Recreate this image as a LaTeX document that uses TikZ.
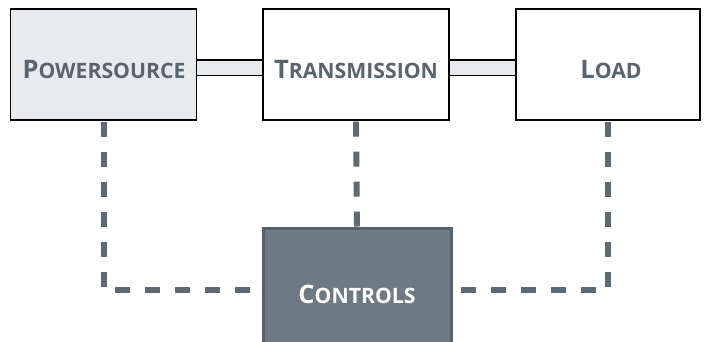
\documentclass[tikz,border=0pt]{standalone}
\usepackage{fontspec}
\setmainfont{Open Sans}
\definecolor{inkgrey}{HTML}{5A646C}
\definecolor{sourcefill}{HTML}{E8EBEE}
\definecolor{ctrlfill}{HTML}{6E7A83}
\definecolor{ctrledge}{HTML}{56616A}
\definecolor{dashgrey}{HTML}{5F6B74}
\newcommand{\capsname}[2]{{\fontsize{25.5}{30}\selectfont #1}{\fontsize{21.2}{26}\selectfont #2}}
\tikzset{
  unitbox/.style={draw=black,line width=1.2pt,minimum width=186pt,minimum height=111pt,
    inner sep=0pt,text=inkgrey,font=\bfseries},
  ctrlbox/.style={draw=ctrledge,line width=3pt,fill=ctrlfill,minimum width=188pt,
    minimum height=124pt,inner sep=0pt,text=white,font=\bfseries},
  shaft/.style={draw=black,line width=1.1pt,double=sourcefill,double distance=14pt},
  signal/.style={draw=dashgrey,line width=6pt,dash pattern=on 15pt off 15pt},
}
\begin{document}
\begin{tikzpicture}[x=1pt,y=-1pt]
  \useasboundingbox[fill=white] (0,0) rectangle (706,341);
  \clip (0,0) rectangle (706,341);
  % the three units in a row
  \node[unitbox,fill=sourcefill] (ps) at (103.5,64.5) {};
  \node[unitbox,fill=white] (tr) at (356,64.5) {};
  \node[unitbox,fill=white,minimum width=184pt] (ld) at (608,64.5) {};
  \node[text=inkgrey,font=\bfseries] at (104,69) {\capsname{P}{OWERSOURCE}};
  \node[text=inkgrey,font=\bfseries] at (356,69) {\capsname{T}{RANSMISSION}};
  \node[text=inkgrey,font=\bfseries] at (611,69) {\capsname{L}{OAD}};
  % controls below
  \node[ctrlbox] (ct) at (357,290) {};
  \node[text=white,font=\bfseries] at (357,294) {\capsname{C}{ONTROLS}};
  % shafts
  \draw[shaft] ([yshift=-3]ps.east) -- ([yshift=-3]tr.west);
  \draw[shaft] ([yshift=-3]tr.east) -- ([yshift=-3]ld.west);
  % control signals
  \draw[signal] ([yshift=-1]ps.south) |- (ct.west);
  \draw[signal] ([yshift=-1]tr.south) -- (ct.north);
  \draw[signal] ([yshift=-1]ld.south) |- (ct.east);
\end{tikzpicture}
\end{document}
